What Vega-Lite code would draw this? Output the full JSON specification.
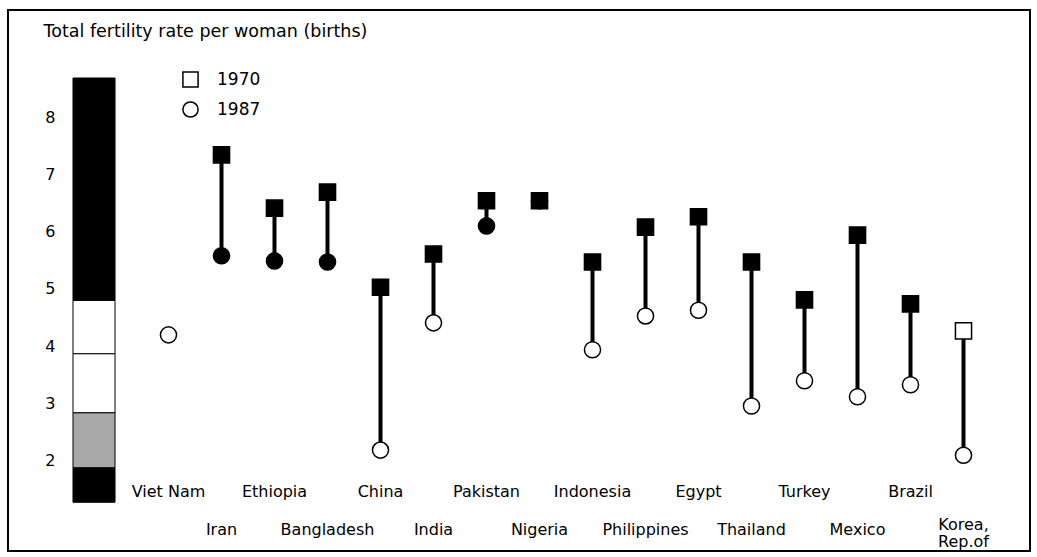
{
  "$schema": "https://vega.github.io/schema/vega-lite/v6.json",
  "width": 970,
  "height": 541,
  "autosize": {"type": "none"},
  "padding": {"left": 60, "top": 10, "right": 7, "bottom": 6},
  "background": "white",
  "config": {
    "view": {"stroke": null},
    "font": "DejaVu Sans"
  },
  "datasets": {
    "bands": [
      {"shade": "dark", "lo": 4.8, "hi": 8.68},
      {"shade": "light", "lo": 3.87, "hi": 4.8},
      {"shade": "light", "lo": 2.84, "hi": 3.87},
      {"shade": "mid", "lo": 1.88, "hi": 2.84},
      {"shade": "dark", "lo": 1.28, "hi": 1.88}
    ],
    "countries": [
      {"label": "Viet Nam", "rank": 1, "1970": null, "1987": 4.2},
      {"label": "Iran", "rank": 2, "1970": 7.34, "1987": 5.58},
      {"label": "Ethiopia", "rank": 3, "1970": 6.41, "1987": 5.49},
      {"label": "Bangladesh", "rank": 4, "1970": 6.69, "1987": 5.47},
      {"label": "China", "rank": 5, "1970": 5.03, "1987": 2.19},
      {"label": "India", "rank": 6, "1970": 5.61, "1987": 4.41},
      {"label": "Pakistan", "rank": 7, "1970": 6.54, "1987": 6.1},
      {"label": "Nigeria", "rank": 8, "1970": 6.54, "1987": 6.54},
      {"label": "Indonesia", "rank": 9, "1970": 5.47, "1987": 3.94},
      {"label": "Philippines", "rank": 10, "1970": 6.08, "1987": 4.53},
      {"label": "Egypt", "rank": 11, "1970": 6.26, "1987": 4.63},
      {"label": "Thailand", "rank": 12, "1970": 5.47, "1987": 2.96},
      {"label": "Turkey", "rank": 13, "1970": 4.81, "1987": 3.4},
      {"label": "Mexico", "rank": 14, "1970": 5.94, "1987": 3.12},
      {"label": "Brazil", "rank": 15, "1970": 4.74, "1987": 3.33},
      {"label": ["Korea,", "Rep.of"], "rank": 16, "1970": 4.27, "1987": 2.1}
    ]
  },
  "layer": [
    {
      "data": {"values": [{}]},
      "mark": {"type": "rect", "fill": null, "fillOpacity": 0, "stroke": "black", "strokeWidth": 2},
      "encoding": {
        "x": {"datum": -2.0283, "type": "quantitative", "scale": {"domain": [-1.0472, 17.2547], "nice": false, "zero": false}, "axis": null},
        "x2": {"datum": 17.2547},
        "y": {
          "datum": 0.4302, "type": "quantitative",
          "scale": {"domain": [0.4302, 9.8663], "nice": false, "zero": false},
          "axis": {
            "title": "Total fertility rate per woman (births)",
            "values": [2, 3, 4, 5, 6, 7, 8],
            "format": "d",
            "grid": false, "ticks": false, "domain": false, "labelPadding": 5,
            "labelFont": "DejaVu Sans", "labelFontSize": 16, "labelColor": "black",
            "titleFont": "DejaVu Sans", "titleFontSize": 17.5, "titleFontWeight": "normal", "titleColor": "black",
            "titleAngle": 0, "titleAlign": "left", "titleBaseline": "middle",
            "titleX": -17, "titleY": 21
          }
        },
        "y2": {"datum": 9.8663}
      }
    },
    {
      "data": {"name": "bands"},
      "mark": {"type": "rect", "stroke": "black", "strokeWidth": 1},
      "encoding": {
        "x": {"datum": -0.802, "type": "quantitative"},
        "x2": {"datum": -0.009},
        "y": {"field": "lo", "type": "quantitative"},
        "y2": {"field": "hi"},
        "fill": {"field": "shade", "type": "nominal", "scale": {"domain": ["dark", "light", "mid"], "range": ["black", "white", "#a8a8a8"]}, "legend": null}
      }
    },
    {
      "data": {"name": "countries"},
      "mark": {"type": "rule", "color": "black", "strokeWidth": 4},
      "encoding": {
        "x": {"field": "rank", "type": "quantitative"},
        "y": {"field": "1970", "type": "quantitative"},
        "y2": {"field": "1987"}
      }
    },
    {
      "data": {"name": "countries"},
      "transform": [
        {"fold": ["1970", "1987"], "as": ["year", "value"]},
        {"filter": "datum.value != null"}
      ],
      "mark": {"type": "point", "filled": true, "stroke": "black", "strokeWidth": 1.5, "opacity": 1, "size": 260},
      "encoding": {
        "x": {"field": "rank", "type": "quantitative"},
        "y": {"field": "value", "type": "quantitative"},
        "shape": {
          "field": "year", "type": "nominal",
          "scale": {"domain": ["1970", "1987"], "range": ["square", "circle"]},
          "legend": {
            "title": null, "orient": "none", "legendX": 122, "legendY": 61,
            "labelFont": "DejaVu Sans", "labelFontSize": 17, "labelColor": "black",
            "symbolSize": 230, "rowPadding": 7, "labelOffset": 18,
            "encode": {
              "symbols": {
                "update": {
                  "fill": {"value": "white"},
                  "stroke": {"value": "black"},
                  "strokeWidth": {"value": 1.5},
                  "opacity": {"value": 1},
                  "size": {"value": 230}
                }
              }
            }
          }
        },
        "fill": {"condition": {"test": "datum.value >= 4.7", "value": "black"}, "value": "white"}
      }
    },
    {
      "data": {"name": "countries"},
      "transform": [{"filter": "datum.rank % 2 == 1"}],
      "mark": {"type": "text", "font": "DejaVu Sans", "fontSize": 16, "color": "black", "align": "center", "baseline": "middle"},
      "encoding": {
        "x": {"field": "rank", "type": "quantitative"},
        "y": {"datum": 1.459, "type": "quantitative"},
        "text": {"field": "label", "type": "nominal"}
      }
    },
    {
      "data": {"name": "countries"},
      "transform": [{"filter": "datum.rank % 2 == 0 && datum.rank != 16"}],
      "mark": {"type": "text", "font": "DejaVu Sans", "fontSize": 16, "color": "black", "align": "center", "baseline": "middle"},
      "encoding": {
        "x": {"field": "rank", "type": "quantitative"},
        "y": {"datum": 0.796, "type": "quantitative"},
        "text": {"field": "label", "type": "nominal"}
      }
    },
    {
      "data": {"name": "countries"},
      "transform": [{"filter": "datum.rank == 16"}],
      "mark": {"type": "text", "font": "DejaVu Sans", "fontSize": 16, "color": "black", "align": "center", "baseline": "alphabetic", "lineHeight": 17},
      "encoding": {
        "x": {"field": "rank", "type": "quantitative"},
        "y": {"datum": 0.796, "type": "quantitative"},
        "text": {"field": "label", "type": "nominal"}
      }
    }
  ]
}
